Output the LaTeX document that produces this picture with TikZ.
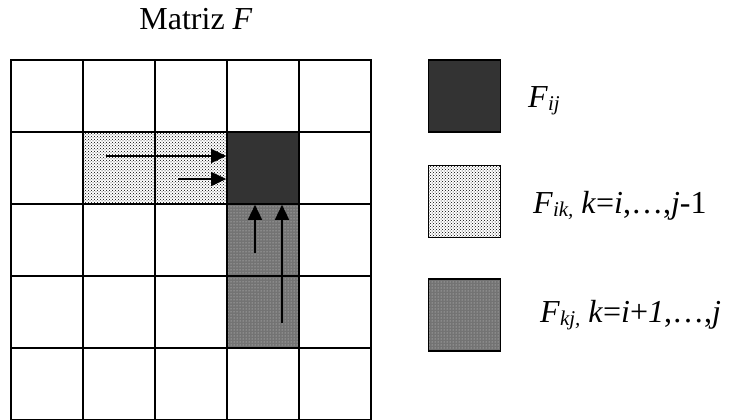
\documentclass[tikz,border=0pt]{standalone}
\usepackage{fontspec}
\setmainfont{Liberation Serif}
\usetikzlibrary{positioning,patterns,arrows.meta}
\newcommand{\idx}[1]{\raisebox{-3pt}{\fontsize{21}{21}\selectfont\itshape #1}}

\begin{document}
\begin{tikzpicture}[
  x=1pt, y=-1pt,
  cell/.style={draw, line width=1.6pt, minimum size=72pt, inner sep=0pt},
  fij/.style={fill=black!80},
  fik/.style={pattern=crosshatch dots, pattern color=black},
  fkj/.style={preaction={fill=black!55}, pattern=dots, pattern color=white!85!black},
  shade 22/.style=fik, shade 23/.style=fik,
  shade 24/.style=fij,
  shade 34/.style=fkj, shade 44/.style=fkj,
  legtext/.style={anchor=base west, inner sep=0pt, font=\fontsize{32}{38}\selectfont},
  flow/.style={-{Triangle[length=15pt,width=14pt]}, line width=1.5pt}
]
\useasboundingbox (0,0) rectangle (731,420);
\node[legtext, anchor=base] (title) at (196,30) {Matriz \textit{F}};
\foreach \r in {1,...,5}
  \foreach \c in {1,...,5}
    \node[cell, shade \r\c/.try] (c\r\c) at ({72*\c-25},{72*\r+24}) {};
\coordinate (a1) at (106,156);
\coordinate (a2) at (178,179);
\coordinate (a3) at (255,253);
\coordinate (a4) at (282,323);
\draw[flow] (a1) -- (a1 -| c24.west);
\draw[flow] (a2) -- (a2 -| c24.west);
\draw[flow] (a3) -- (a3 |- c24.south);
\draw[flow] (a4) -- (a4 |- c24.south);
\node[cell, fij] (legij) at (464.5,96) {};
\node[cell, fik, below=32pt of legij] (legik) {};
\node[cell, fkj, below=40pt of legik] (legkj) {};
\node[legtext] (tij) at (528,107) {\textit{F}\idx{ij}};
\node[legtext] (tik) at (533,213) {\textit{F}\idx{ik,} \textit{k}=\textit{i},…,\textit{j}-1};
\node[legtext] (tkj) at (540,322) {\textit{F}\idx{kj,} \textit{k}=\textit{i}+\textit{1},…,\textit{j}};
\end{tikzpicture}
\end{document}
